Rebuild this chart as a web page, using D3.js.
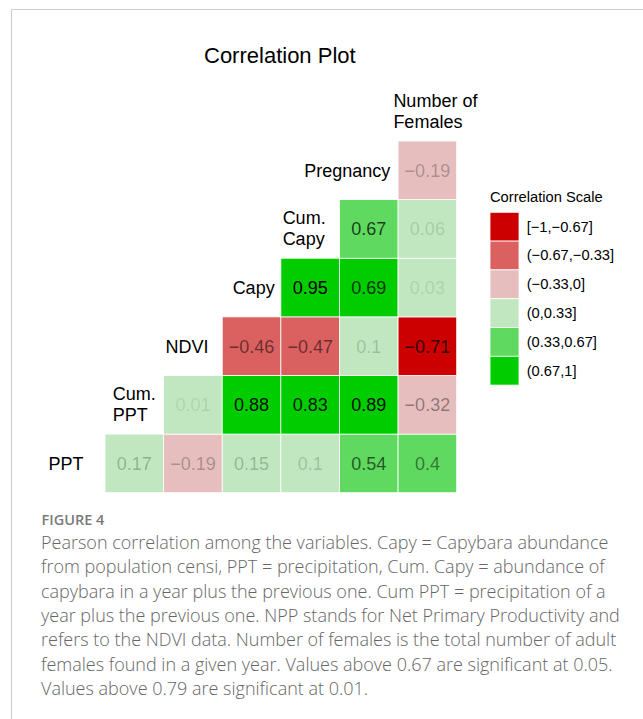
<!DOCTYPE html>
<html>
<head>
<meta charset="utf-8">
<script src="https://cdn.jsdelivr.net/npm/d3@7"></script>
<style>
  html, body { margin: 0; padding: 0; background: #fff; }
  svg text { font-family: "Liberation Sans", Arial, sans-serif; }
  svg text.caption { font-family: "Open Sans", sans-serif; }
</style>
</head>
<body>
<script>
// variables in plot order (bottom row first); "\n" breaks a label in two lines
var variables = ["PPT", "Cum.\nPPT", "NDVI", "Capy", "Cum.\nCapy", "Pregnancy", "Number of\nFemales"];

// lower triangle of the correlation matrix, row i holds r(i, j) for j > i
var coefficients = [
    [0.17, -0.19, 0.15, 0.1, 0.54, 0.4],
    [0.01, 0.88, 0.83, 0.89, -0.32],
    [-0.46, -0.47, 0.1, -0.71],
    [0.95, 0.69, 0.03],
    [0.67, 0.06],
    [-0.19]
];

var scaleBreaks = [-0.67, -0.33, 0, 0.33, 0.67];
var scaleLabels = ["[\u22121,\u22120.67]", "(\u22120.67,\u22120.33]", "(\u22120.33,0]", "(0,0.33]", "(0.33,0.67]", "(0.67,1]"];
var scaleColors = ["#CC0000", "#DB6161", "#E6BEBE", "#C0E7C0", "#5FD95F", "#00CC00"];

var captionHead = "FIGURE 4";
var captionLines = [
    "Pearson correlation among the variables. Capy = Capybara abundance",
    "from population censi, PPT = precipitation, Cum. Capy = abundance of",
    "capybara in a year plus the previous one. Cum PPT = precipitation of a",
    "year plus the previous one. NPP stands for Net Primary Productivity and",
    "refers to the NDVI data. Number of females is the total number of adult",
    "females found in a given year. Values above 0.67 are significant at 0.05.",
    "Values above 0.79 are significant at 0.01."
];

// horizontal justification of each diagonal label around its cell centre
var labelHjust = [0.78, 0.5, 0.64, 0.45, 0.64, 0.75, 0.4];

var width = 643,
    height = 719;

var svg = d3.select(document.body).append('svg')
    .attr('width', width)
    .attr('height', height);

// frame of the figure
svg.append('path')
    .attr('d', 'M11.5,' + height + 'V9.5H' + width)
    .attr('fill', 'none')
    .attr('stroke', '#cfcfcf')
    .attr('stroke-width', 1.2);

var x = d3.scaleBand()
    .domain(variables)
    .range([46.4, 456.7]);

var y = d3.scaleBand()
    .domain(variables)
    .range([492.7, 82.4]);

var size = x.bandwidth();

var cells = [];
coefficients.forEach(function(row, i) {
    row.forEach(function(v, k) {
        cells.push({ row: variables[i], col: variables[i + k + 1], value: v });
    });
});

function colorOf(v) {
    return scaleColors[d3.bisectLeft(scaleBreaks, v)];
}

var alpha = d3.scaleLinear()
    .domain(d3.extent(cells, function(d) { return Math.abs(d.value); }))
    .range([0.1, 1]);

svg.append('text')
    .attr('x', 204)
    .attr('y', 62.7)
    .style('font-size', '22px')
    .attr('fill', '#000')
    .text('Correlation Plot');

var chart = svg.append('g');

chart.selectAll('.cell')
    .data(cells)
    .enter().append('rect')
        .attr('class', 'cell')
        .attr('x', function(d) { return x(d.col); })
        .attr('y', function(d) { return y(d.row); })
        .attr('width', size)
        .attr('height', size)
        .attr('fill', function(d) { return colorOf(d.value); })
        .attr('stroke', '#fff')
        .attr('stroke-width', 0.8);

chart.selectAll('.value')
    .data(cells)
    .enter().append('text')
        .attr('class', 'value')
        .attr('x', function(d) { return x(d.col) + size / 2; })
        .attr('y', function(d) { return y(d.row) + size / 2 + 6.5; })
        .attr('text-anchor', 'middle')
        .style('font-size', '18px')
        .attr('fill', '#000')
        .attr('fill-opacity', function(d) { return alpha(Math.abs(d.value)); })
        .text(function(d) { return String(d.value).replace('-', '\u2212'); });

// diagonal labels
var labels = chart.selectAll('.label')
    .data(variables)
    .enter().append('text')
        .attr('class', 'label')
        .style('font-size', '18px')
        .attr('fill', '#000');

labels.each(function(name, i) {
    var el = d3.select(this),
        lines = name.split('\n'),
        cx = x(name) + size / 2,
        cy = y(name) + size / 2;

    lines.forEach(function(line, k) {
        el.append('tspan')
            .attr('x', 0)
            .attr('y', lines.length == 1 ? cy + 6.5 : cy - 5 + k * 21.5)
            .text(line);
    });

    var w = this.getBBox().width;
    el.selectAll('tspan').attr('x', cx - labelHjust[i] * w);
});

// legend
var legend = svg.append('g')
    .attr('transform', 'translate(490, 212.3)');

legend.append('text')
    .attr('x', 0)
    .attr('y', -10)
    .style('font-size', '14.7px')
    .attr('fill', '#000')
    .text('Correlation Scale');

var keyH = 28.8;

var item = legend.selectAll('.item')
    .data(scaleLabels)
    .enter().append('g')
        .attr('class', 'item')
        .attr('transform', function(d, i) { return 'translate(0,' + i * keyH + ')'; });

item.append('rect')
    .attr('width', 29)
    .attr('height', keyH)
    .attr('fill', function(d, i) { return scaleColors[i]; })
    .attr('stroke', '#fff')
    .attr('stroke-width', 0.8);

item.append('text')
    .attr('x', 36.7)
    .attr('y', keyH / 2 + 5)
    .style('font-size', '14.7px')
    .attr('fill', '#000')
    .text(function(d) { return d; });

// caption
svg.append('text')
    .attr('class', 'caption')
    .attr('x', 41.5)
    .attr('y', 525)
    .style('font-size', '14.5px')
    .style('font-weight', 600)
    .attr('fill', '#7a7a7a')
    .text(captionHead);

svg.append('g').selectAll('text')
    .data(captionLines)
    .enter().append('text')
        .attr('class', 'caption')
        .attr('x', 41)
        .attr('y', function(d, i) { return 549 + i * 24.3; })
        .style('font-size', '18px')
        .style('font-weight', 300)
        .attr('fill', '#666')
        .text(function(d) { return d; });
</script>
</body>
</html>
